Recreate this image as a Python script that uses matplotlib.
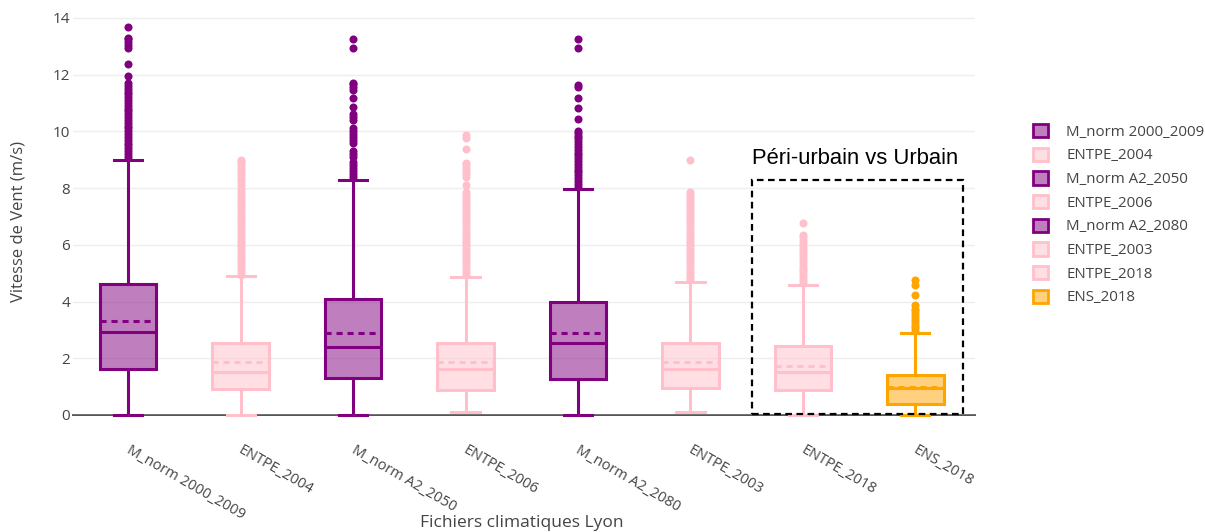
import matplotlib
matplotlib.use('Agg')
import matplotlib.pyplot as plt
import matplotlib.transforms as mtransforms
from matplotlib.patches import Patch, Rectangle
from matplotlib.colors import to_rgba

plt.rcParams['font.family'] = ['Open Sans', 'DejaVu Sans']

# noms des fichiers climatiques
fichiers = ['M_norm 2000_2009', 'ENTPE_2004', 'M_norm A2_2050', 'ENTPE_2006',
            'M_norm A2_2080', 'ENTPE_2003', 'ENTPE_2018', 'ENS_2018']
couleurs = ['purple', 'pink', 'purple', 'pink', 'purple', 'pink', 'pink', 'orange']

# statistiques (m/s)
q1 = [1.62, 0.91, 1.30, 0.88, 1.26, 0.96, 0.88, 0.38]
mediane = [2.92, 1.51, 2.41, 1.61, 2.55, 1.61, 1.52, 0.95]
q3 = [4.62, 2.53, 4.09, 2.53, 3.99, 2.53, 2.43, 1.41]
moyenne = [3.31, 1.88, 2.90, 1.88, 2.90, 1.88, 1.74, 0.99]
moust_bas = [0.0, 0.0, 0.0, 0.12, 0.0, 0.10, 0.0, 0.0]
moust_haut = [8.99, 4.90, 8.29, 4.88, 7.97, 4.68, 4.58, 2.89]

# valeurs extremes (points)
extremes_1 = [9.1, 9.2, 9.3, 9.4, 9.5, 9.6, 9.7, 9.8, 9.9, 10.0, 10.1, 10.2, 10.3,
              10.4, 10.5, 10.6, 10.7, 10.8, 10.9, 11.0, 11.1, 11.2, 11.3, 11.4,
              11.5, 11.6, 11.7, 11.96, 12.37, 12.94, 13.05, 13.15, 13.25, 13.3, 13.66]
extremes_2 = [4.95, 5.05, 5.15, 5.25, 5.35, 5.45, 5.55, 5.65, 5.75, 5.85, 5.95,
              6.05, 6.15, 6.25, 6.35, 6.45, 6.55, 6.65, 6.75, 6.85, 6.95, 7.05,
              7.15, 7.25, 7.35, 7.45, 7.55, 7.65, 7.75, 7.85, 7.95, 8.1, 8.25,
              8.35, 8.45, 8.55, 8.65, 8.75, 8.85, 8.95, 9.0]
extremes_3 = [8.4, 8.5, 8.6, 8.7, 8.8, 8.9, 9.1, 9.2, 9.3, 9.6, 9.7, 9.8, 9.9,
              10.0, 10.1, 10.4, 10.5, 10.6, 10.85, 11.17, 11.46, 11.55, 11.65,
              11.7, 12.95, 13.25]
extremes_4 = [4.95, 5.05, 5.15, 5.25, 5.35, 5.45, 5.55, 5.65, 5.75, 5.85, 5.95,
              6.05, 6.15, 6.25, 6.35, 6.45, 6.55, 6.65, 6.75, 6.85, 6.95, 7.05,
              7.15, 7.25, 7.35, 7.45, 7.55, 7.65, 7.75, 7.85, 8.1, 8.4, 8.5, 8.6,
              8.7, 8.8, 8.88, 9.38, 9.76, 9.87]
extremes_5 = [8.05, 8.15, 8.25, 8.35, 8.45, 8.55, 8.65, 8.75, 8.85, 8.95, 9.05,
              9.15, 9.25, 9.35, 9.45, 9.55, 9.65, 9.75, 9.85, 9.95, 10.0, 10.44,
              10.82, 11.17, 11.56, 11.63, 12.95, 13.26]
extremes_6 = [4.75, 4.85, 4.95, 5.05, 5.15, 5.25, 5.35, 5.45, 5.55, 5.65, 5.75,
              5.85, 5.95, 6.05, 6.15, 6.25, 6.35, 6.45, 6.55, 6.65, 6.75, 6.85,
              6.95, 7.05, 7.15, 7.25, 7.35, 7.45, 7.55, 7.65, 7.75, 7.87, 8.97]
extremes_7 = [4.66, 4.76, 4.86, 4.96, 5.06, 5.16, 5.26, 5.36, 5.46, 5.56, 5.66,
              5.76, 5.86, 5.96, 6.06, 6.16, 6.26, 6.35, 6.78]
extremes_8 = [2.95, 3.05, 3.15, 3.25, 3.35, 3.45, 3.55, 3.65, 3.75, 3.88,
              4.23, 4.58, 4.76]
extremes = [extremes_1, extremes_2, extremes_3, extremes_4,
            extremes_5, extremes_6, extremes_7, extremes_8]

gris = '#444444'
fig = plt.figure(figsize=(12.05, 5.32), dpi=100)
ax = fig.add_axes([73/1205, 117/532, 902/1205, 410/532])

stats = []
for i in range(len(fichiers)):
    stats.append({'med': mediane[i], 'q1': q1[i], 'q3': q3[i],
                  'whislo': moust_bas[i], 'whishi': moust_haut[i],
                  'fliers': extremes[i], 'mean': moyenne[i]})

lw = 2.2
for i, s in enumerate(stats):
    c = couleurs[i]
    ax.bxp([s], positions=[i], widths=0.5, patch_artist=True,
           showmeans=True, meanline=True, showfliers=True,
           boxprops=dict(facecolor=to_rgba(c, 0.5), edgecolor=c, linewidth=lw),
           medianprops=dict(color=c, linewidth=lw),
           meanprops=dict(color=c, linewidth=lw, linestyle=(0, (2.0, 1.6))),
           whiskerprops=dict(color=c, linewidth=lw),
           capprops=dict(color=c, linewidth=lw),
           capwidths=0.25,
           flierprops=dict(marker='o', markerfacecolor=c, markeredgecolor='none',
                           markersize=5.8))
for art in ax.lines + ax.patches:
    art.set_clip_on(False)

ax.set_xlim(-0.49, 7.53)
ax.set_ylim(0, 14.45)
ax.set_yticks([0, 2, 4, 6, 8, 10, 12, 14])
ax.grid(axis='y', color='#eeeeee', linewidth=1)
ax.set_axisbelow(True)
for sp in ['top', 'right', 'left']:
    ax.spines[sp].set_visible(False)
ax.spines['bottom'].set_color(gris)
ax.spines['bottom'].set_linewidth(1.3)
ax.spines['bottom'].set_zorder(0.5)
ax.tick_params(axis='y', length=0, pad=2, labelsize=11, labelcolor=gris)
ax.tick_params(axis='x', length=0, pad=20, labelsize=10.5, labelcolor=gris)
ax.set_xticks(range(len(fichiers)))
ax.set_xticklabels(fichiers, rotation=-30, ha='left', va='top', rotation_mode='anchor')
decal = mtransforms.ScaledTranslation(3/100, 0, fig.dpi_scale_trans)
for lab in ax.get_xticklabels():
    lab.set_transform(lab.get_transform() + decal)

ax.set_ylabel('Vitesse de Vent (m/s)', fontsize=12, color=gris)
ax.yaxis.set_label_coords(-0.052, 0.473)
fig.text(522/1205, 1 - 523/532, 'Fichiers climatiques Lyon', fontsize=12.5,
         color=gris, ha='center', va='center')

# cadre péri-urbain vs urbain
ax.add_patch(Rectangle((5.55, 0.05), 1.87, 8.24, fill=False, edgecolor='black',
                       linewidth=1.6, linestyle=(0, (3, 2)), clip_on=False, zorder=5))
fig.text(855/1205, 1 - 158/532, 'Péri-urbain vs Urbain', fontsize=15.8,
         family=['Liberation Sans', 'DejaVu Sans'], color='black',
         ha='center', va='center')

poignees = [Patch(facecolor=to_rgba(c, 0.5), edgecolor=c, linewidth=2)
            for c in couleurs]
fig.legend(poignees, fichiers, loc='upper left', bbox_to_anchor=(1033/1205, 1 - 124/532),
           frameon=False, fontsize=10.8, handlelength=1.0, handleheight=1.0,
           handletextpad=1.2, labelspacing=0.52, borderpad=0, borderaxespad=0,
           labelcolor=gris)

fig.savefig('out.png', dpi=100)
